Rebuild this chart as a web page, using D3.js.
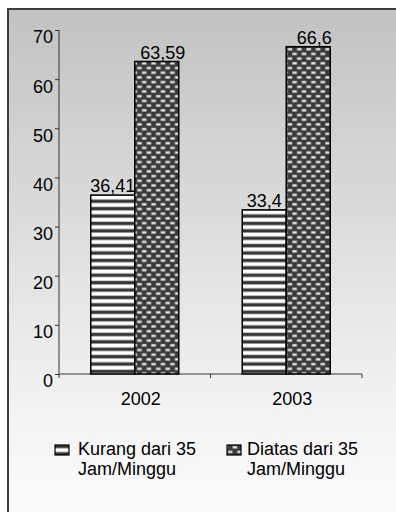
<!DOCTYPE html>
<html>
<head>
<meta charset="utf-8">
<script src="https://cdn.jsdelivr.net/npm/d3@7"></script>
<style>
  html, body { margin: 0; padding: 0; background: #ffffff; }
  svg { display: block; }
  text { font-family: "Liberation Sans", Arial, sans-serif; fill: #000; }
</style>
</head>
<body>
<script>
// Working-hours share per year
const years = ["2002", "2003"];
const seriesNames = ["Kurang dari 35 Jam/Minggu", "Diatas dari 35 Jam/Minggu"];
const seriesLines = [["Kurang dari 35", "Jam/Minggu"], ["Diatas dari 35", "Jam/Minggu"]];
const lessThan35 = [36.41, 33.4];
const moreThan35 = [63.59, 66.6];
const yTicks = [0, 10, 20, 30, 40, 50, 60, 70];

const W = 396, H = 512;
const svg = d3.select("body").append("svg").attr("width", W).attr("height", H);
const defs = svg.append("defs");

// panel gradient
const grad = defs.append("linearGradient").attr("id", "bg").attr("x1", 0).attr("y1", 0).attr("x2", 0).attr("y2", 1);
grad.append("stop").attr("offset", "0%").attr("stop-color", "#c2c2c2");
grad.append("stop").attr("offset", "78%").attr("stop-color", "#f3f3f3");
grad.append("stop").attr("offset", "100%").attr("stop-color", "#fbfbfb");

// horizontal stripe fill
const ps = defs.append("pattern").attr("id", "stripes").attr("patternUnits", "userSpaceOnUse")
  .attr("width", 8).attr("height", 7.4).attr("y", 196);
ps.append("rect").attr("width", 8).attr("height", 7.4).attr("fill", "#ffffff");
ps.append("rect").attr("y", 3.2).attr("width", 8).attr("height", 0.6).attr("fill", "#999");
ps.append("rect").attr("y", 3.8).attr("width", 8).attr("height", 3.0).attr("fill", "#333");
ps.append("rect").attr("y", 6.8).attr("width", 8).attr("height", 0.6).attr("fill", "#888");

// brick-dot fill
const pd = defs.append("pattern").attr("id", "dots").attr("patternUnits", "userSpaceOnUse")
  .attr("width", 9.4).attr("height", 9.4).attr("x", 136);
pd.append("rect").attr("width", 9.4).attr("height", 9.4).attr("fill", "#3a3a3a");
[[1.5, 1.2], [6.2, 5.9], [-3.2, 5.9]].forEach(([x, y]) => {
  pd.append("rect").attr("x", x - 0.6).attr("y", y - 0.5).attr("width", 5.2).attr("height", 3).attr("fill", "#777");
  pd.append("rect").attr("x", x).attr("y", y).attr("width", 4).attr("height", 2).attr("fill", "#e8e8e8");
});

// panel with frame (left/top edges visible)
svg.append("rect").attr("x", 8).attr("y", 9).attr("width", W).attr("height", H)
  .attr("fill", "url(#bg)").attr("stroke", "#3c3c3c").attr("stroke-width", 2);

const x0 = 59, x1 = 362, y0 = 374, yTop = 30;
const x = d3.scaleBand().domain(years).range([x0, x1]);
const xs = d3.scaleBand().domain(seriesNames).range([0, x.bandwidth()])
  .paddingInner(0).paddingOuter((x.bandwidth() - 88) / 2 / 44);
const y = d3.scaleLinear().domain([0, 70]).range([y0, yTop]);

// y axis
const yAxis = svg.append("g").attr("transform", `translate(${x0},0)`)
  .call(d3.axisLeft(y).tickValues(yTicks).tickSize(4).tickPadding(2).tickFormat(d3.format("d")));
yAxis.select(".domain").attr("stroke", "#333").attr("d", `M0,${y0}V${yTop}`);
yAxis.selectAll(".tick line").attr("stroke", "#333");
yAxis.selectAll(".tick text").attr("font-size", 18).attr("font-family", "Liberation Sans, Arial, sans-serif")
  .attr("dy", "0.72em").attr("fill", "#000");

// x axis
const xAxis = svg.append("g").attr("transform", `translate(0,${y0})`)
  .call(d3.axisBottom(x).tickSize(0).tickPadding(0));
xAxis.select(".domain").attr("stroke", "#333").attr("d", `M${x0},0H${x1}`);
xAxis.selectAll(".tick text").remove();
const bounds = [x0].concat(years.map(d => x(d) + x.bandwidth()));
xAxis.selectAll("line.sep").data(bounds).join("line").attr("class", "sep")
  .attr("x1", d => d).attr("x2", d => d).attr("y1", 0).attr("y2", 4).attr("stroke", "#333");
svg.selectAll("text.year").data(years).join("text").attr("class", "year")
  .attr("x", d => x(d) + x.bandwidth() / 2 + 6).attr("y", 405)
  .attr("text-anchor", "middle").attr("font-size", 18).text(d => d);

// bars
const fills = ["url(#stripes)", "url(#dots)"];
const valueSets = [lessThan35, moreThan35];
const rows = [];
years.forEach((yr, i) => valueSets.forEach((vals, s) => rows.push({ yr, s, v: vals[i] })));

svg.append("g").selectAll("rect").data(rows).join("rect")
  .attr("x", d => x(d.yr) + xs(seriesNames[d.s]))
  .attr("y", d => y(d.v))
  .attr("width", xs.bandwidth())
  .attr("height", d => y0 - y(d.v))
  .attr("fill", d => fills[d.s])
  .attr("stroke", "#000").attr("stroke-width", 1.5);

const fmt = v => String(v).replace(".", ",");
svg.append("g").selectAll("text").data(rows).join("text")
  .attr("x", d => x(d.yr) + xs(seriesNames[d.s]) + xs.bandwidth() / 2 + (d.s === 1 ? 6 : 0))
  .attr("y", d => y(d.v) - 3)
  .attr("text-anchor", "middle").attr("font-size", 18)
  .text(d => fmt(d.v));

// legend
const legX = [55, 227];
const legGap = [23, 20];
const leg = svg.append("g").selectAll("g").data(seriesNames).join("g")
  .attr("transform", (d, i) => `translate(${legX[i]},445)`);
leg.append("rect").attr("width", 14).attr("height", 10)
  .attr("fill", (d, i) => fills[i]).attr("stroke", "#000").attr("stroke-width", 1.2);
leg.each(function (d, i) {
  d3.select(this).append("text").attr("y", 10).attr("font-size", 18)
    .selectAll("tspan").data(seriesLines[i]).join("tspan")
    .attr("x", legGap[i]).attr("dy", (t, j) => j === 0 ? 0 : 20).text(t => t);
});
</script>
</body>
</html>
